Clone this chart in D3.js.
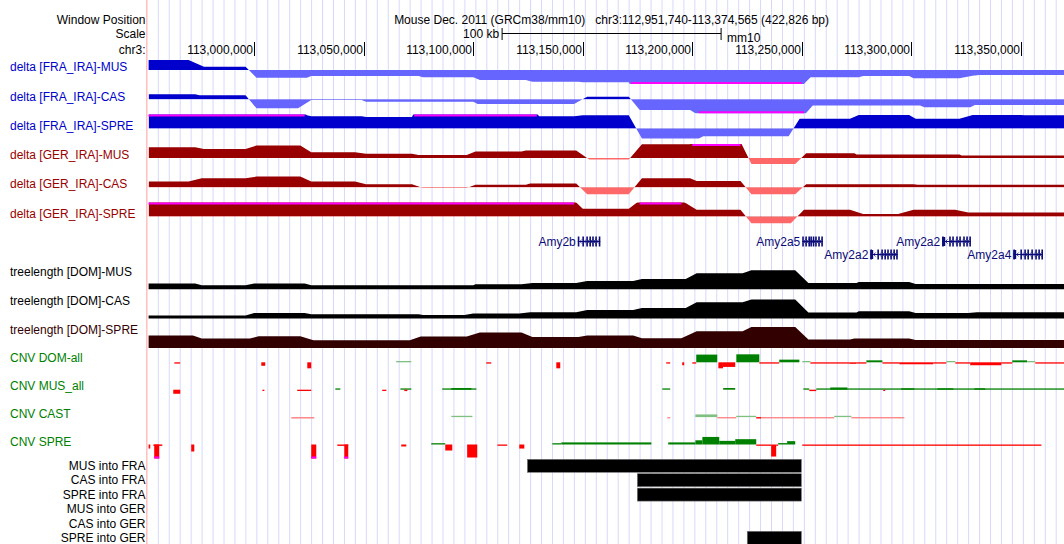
<!DOCTYPE html>
<html>
<head>
<meta charset="utf-8">
<script src="https://cdn.jsdelivr.net/npm/d3@7"></script>
<style>
  body { margin: 0; background: #fff; }
  svg { display: block; font-family: "Liberation Sans", Arial, Helvetica, sans-serif; }
  text { white-space: pre; }
</style>
</head>
<body>
<svg id="chart" width="1064" height="544"></svg>
<script>
// ---- window ----
const chrom = "chr3";
const winStart = 112951740, winEnd = 113374565;
const assemblyTitle = "Mouse Dec. 2011 (GRCm38/mm10)";
const scaleBarKb = 100;
const rulerTicks = [113000000, 113050000, 113100000, 113150000, 113200000, 113250000, 113300000, 113350000];

// ---- delta tracks: [position Mb, delta] (view limits ±1) ----
const deltaFraMus = [[112.951,0.71],[112.970,0.71],[112.977,0.24],[112.996,0.24],[113.001,-0.55],[113.024,-0.55],[113.026,-0.43],[113.075,-0.43],[113.077,-0.52],[113.100,-0.52],[113.103,-0.71],[113.124,-0.71],[113.127,-0.84],[113.148,-0.84],[113.150,-0.88],[113.171,-0.88],[113.172,-1.15],[113.250,-1.15],[113.254,-0.52],[113.276,-0.52],[113.278,-0.43],[113.299,-0.43],[113.301,-0.59],[113.322,-0.59],[113.328,-0.41],[113.331,-0.36],[113.375,-0.36]];
const deltaFraCas = [[112.951,0.36],[112.973,0.36],[112.975,0.29],[112.996,0.29],[113.001,-0.64],[113.020,-0.64],[113.026,-0.05],[113.049,-0.05],[113.051,-0.17],[113.100,-0.17],[113.102,-0.34],[113.146,-0.34],[113.152,0.19],[113.171,0.19],[113.176,-0.76],[113.199,-0.76],[113.203,-1.15],[113.251,-1.15],[113.255,-0.45],[113.304,-0.45],[113.306,-0.57],[113.327,-0.57],[113.329,-0.41],[113.375,-0.41]];
const deltaFraSpre = [[112.951,1.15],[113.023,1.15],[113.024,0.95],[113.026,0.88],[113.049,0.88],[113.051,0.83],[113.072,0.83],[113.073,1.15],[113.129,1.15],[113.130,0.88],[113.146,0.88],[113.150,0.95],[113.171,0.95],[113.177,-0.71],[113.203,-0.71],[113.205,-0.55],[113.244,-0.55],[113.249,0.71],[113.272,0.71],[113.276,0.98],[113.299,0.98],[113.302,0.71],[113.322,0.71],[113.328,0.98],[113.350,0.98],[113.352,0.95],[113.375,0.95]];
const deltaGerMus = [[112.951,0.76],[112.973,0.76],[112.977,0.64],[112.996,0.64],[113.001,0.88],[113.021,0.88],[113.026,0.40],[113.046,0.40],[113.051,0.29],[113.072,0.29],[113.075,0.21],[113.097,0.21],[113.101,0.45],[113.122,0.45],[113.124,0.52],[113.147,0.52],[113.153,-0.12],[113.171,-0.12],[113.177,0.98],[113.199,0.98],[113.200,1.15],[113.222,1.15],[113.227,-0.43],[113.247,-0.43],[113.252,0.33],[113.274,0.33],[113.275,0.24],[113.322,0.24],[113.323,0.17],[113.375,0.17]];
const deltaGerCas = [[112.951,0.40],[112.970,0.40],[112.976,0.64],[112.996,0.64],[113.001,0.76],[113.021,0.76],[113.026,0.40],[113.046,0.40],[113.051,0.21],[113.072,0.21],[113.077,-0.05],[113.097,-0.05],[113.101,0.17],[113.124,0.17],[113.126,0.26],[113.147,0.26],[113.152,-0.50],[113.171,-0.50],[113.177,0.64],[113.199,0.64],[113.202,0.45],[113.222,0.45],[113.227,-0.50],[113.247,-0.50],[113.252,0.21],[113.301,0.21],[113.303,0.17],[113.375,0.17]];
const deltaGerSpre = [[112.951,1.15],[113.146,1.15],[113.150,0.55],[113.171,0.55],[113.176,1.15],[113.195,1.15],[113.202,0.48],[113.222,0.48],[113.227,-0.48],[113.245,-0.48],[113.251,0.48],[113.272,0.48],[113.278,0.17],[113.294,0.17],[113.301,0.48],[113.320,0.48],[113.326,0.29],[113.375,0.29]];
const deltaLabels = ["delta [FRA_IRA]-MUS","delta [FRA_IRA]-CAS","delta [FRA_IRA]-SPRE","delta [GER_IRA]-MUS","delta [GER_IRA]-CAS","delta [GER_IRA]-SPRE"];

// ---- genes ----
const geneNames = ["Amy2b","Amy2a5","Amy2a2","Amy2a2","Amy2a4"];
const geneRows = [0, 0, 1, 0, 1];
const geneExons = [
  [113.1477,113.1498,113.1516,113.1530,113.1543,113.1557,113.1573],
  [113.2502,113.2516,113.2530,113.2539,113.2550,113.2561,113.2575,113.2589],
  [113.2813,113.2845,113.2863,113.2877,113.2890,113.2904,113.2918,113.2931],
  [113.3141,113.3173,113.3187,113.3205,113.3219,113.3237,113.3251,113.3265],
  [113.3466,113.3498,113.3516,113.3530,113.3548,113.3566,113.3580,113.3594]
];
const geneUtrEnd = [null, null, 113.2826, 113.3155, 113.3479];

// ---- tree length tracks: [position Mb, length] ----
const treeMus = [[112.951,0.0114],[112.973,0.0114],[112.976,0.008],[112.996,0.008],[113.000,0.0114],[113.023,0.0114],[113.026,0.008],[113.100,0.008],[113.101,0.010],[113.122,0.010],[113.127,0.0126],[113.147,0.0126],[113.152,0.0166],[113.173,0.0166],[113.177,0.0206],[113.197,0.0206],[113.202,0.032],[113.223,0.032],[113.227,0.038],[113.247,0.038],[113.253,0.0126],[113.275,0.0126],[113.276,0.0146],[113.299,0.0146],[113.302,0.0106],[113.375,0.0106]];
const treeCas = [[112.951,0.006],[112.996,0.006],[113.000,0.0114],[113.023,0.0114],[113.026,0.0086],[113.075,0.0086],[113.077,0.0074],[113.096,0.0074],[113.100,0.010],[113.121,0.010],[113.126,0.0126],[113.147,0.0126],[113.152,0.0174],[113.173,0.0174],[113.177,0.0214],[113.197,0.0214],[113.202,0.0326],[113.223,0.0326],[113.227,0.038],[113.247,0.038],[113.253,0.012],[113.275,0.012],[113.276,0.0146],[113.299,0.0146],[113.302,0.0114],[113.326,0.0114],[113.330,0.0126],[113.375,0.0126]];
const treeSpre = [[112.951,0.0246],[112.972,0.0246],[112.976,0.0186],[112.998,0.0186],[113.002,0.0234],[113.021,0.0234],[113.027,0.0154],[113.071,0.0154],[113.076,0.0226],[113.097,0.0226],[113.103,0.0306],[113.122,0.0306],[113.127,0.022],[113.148,0.022],[113.152,0.0246],[113.173,0.0246],[113.177,0.0194],[113.195,0.0194],[113.202,0.0334],[113.223,0.0334],[113.227,0.042],[113.247,0.042],[113.253,0.0166],[113.272,0.0166],[113.274,0.0186],[113.299,0.0186],[113.302,0.016],[113.375,0.016]];
const treeLabels = ["treelength [DOM]-MUS","treelength [DOM]-CAS","treelength [DOM]-SPRE"];

// ---- CNV tracks: [start Mb, end Mb, log ratio, low-confidence flag] ----
const cnvDom = [[112.9635,112.9662,-0.07,0],[113.0032,113.0050,-0.25,0],[113.0242,113.0260,-0.43,0],[113.0648,113.0717,0.09,1],[113.1059,113.1082,-0.07,0],[113.1379,113.1397,-0.43,0],[113.1881,113.1899,-0.07,0],[113.1954,113.1963,-0.21,0],[113.2000,113.2018,-0.07,0],[113.2018,113.2114,0.55,0],[113.2119,113.2140,-0.43,0],[113.2140,113.2196,-0.33,0],[113.2201,113.2306,0.57,0],[113.2306,113.2397,-0.07,0],[113.2397,113.2489,0.19,0],[113.2502,113.2539,0.07,1],[113.2539,113.2717,-0.07,0],[113.2717,113.2749,-0.11,0],[113.2749,113.2795,-0.07,0],[113.2795,113.2868,0.14,0],[113.2868,113.2945,-0.07,0],[113.2945,113.3100,-0.14,0],[113.3100,113.3160,-0.07,0],[113.3160,113.3201,0.07,1],[113.3201,113.3269,-0.07,0],[113.3269,113.3411,-0.21,0],[113.3411,113.3461,-0.07,0],[113.3461,113.3529,0.14,0],[113.3530,113.3566,0.07,1],[113.3566,113.3746,-0.07,0]];
const cnvMus = [[112.9630,112.9662,-0.29,0],[113.0037,113.0046,-0.07,0],[113.0196,113.0260,-0.06,0],[113.0370,113.0393,0.07,0],[113.0584,113.0603,-0.07,0],[113.0667,113.0717,0.07,0],[113.0685,113.0699,-0.1,0],[113.0858,113.1014,0.07,0],[113.0900,113.0991,0.12,0],[113.1863,113.1899,0.07,0],[113.2141,113.2196,0.12,0],[113.2507,113.2534,0.07,0],[113.2534,113.2566,-0.1,0],[113.2566,113.3746,0.07,0],[113.2630,113.2708,0.16,0],[113.2954,113.3014,0.1,0],[113.3119,113.3192,0.1,0],[113.3288,113.3338,0.1,0],[113.2872,113.2881,-0.07,0]];
const cnvCast = [[113.0169,113.0274,-0.1,1],[113.0900,113.0996,0.08,1],[113.1886,113.1899,-0.07,1],[113.2014,113.2114,0.19,1],[113.2114,113.2201,-0.07,1],[113.2201,113.2292,0.08,1],[113.2292,113.2315,-0.1,0],[113.2315,113.2648,-0.07,1],[113.2648,113.2726,0.08,1],[113.2726,113.2968,-0.07,1]];
const cnvSpre = [[112.9511,112.9525,-0.29,0],[112.9539,112.9580,-0.1,0],[112.9543,112.9566,-1.1,0],[112.9712,112.9726,-0.5,0],[113.0260,113.0283,-1.1,0],[113.0379,113.0429,-0.1,0],[113.0411,113.0429,-1.1,0],[113.0671,113.0694,-0.14,0],[113.0808,113.0872,0.07,0],[113.0872,113.0904,-0.43,0],[113.0972,113.1018,-0.93,0],[113.1110,113.1155,-0.07,0],[113.1210,113.1233,-0.29,0],[113.1361,113.1402,0.07,0],[113.1402,113.1813,0.15,0],[113.1890,113.2014,0.15,0],[113.2014,113.2046,0.3,0],[113.2046,113.2123,0.54,0],[113.2123,113.2196,0.26,0],[113.2196,113.2292,0.38,0],[113.2292,113.2360,-0.07,0],[113.2360,113.2383,-0.86,0],[113.2383,113.2392,-0.07,0],[113.2392,113.2433,0.1,0],[113.2433,113.2470,0.24,0],[113.2502,113.3594,-0.07,0]];
const cnvLabels = ["CNV DOM-all","CNV MUS_all","CNV CAST","CNV SPRE"];

// ---- introgression calls: [start Mb, end Mb] ----
const introMusFra = [[113.1247,113.2498]];
const introCasFra = [[113.1749,113.2498]];
const introSpreFra = [[113.1749,113.2498]];
const introMusGer = [];
const introCasGer = [];
const introSpreGer = [[113.2251,113.2498]];
const introLabels = ["MUS into FRA","CAS into FRA","SPRE into FRA","MUS into GER","CAS into GER","SPRE into GER"];

// ---------------------------------------------------------------
const W = 1064, H = 544;
const dataLeft = 148.6, dataWidth = 926;
const x = d3.scaleLinear().domain([winStart, winEnd]).range([dataLeft, dataLeft + dataWidth]);
const bp = mb => mb * 1e6;
const fmt = d3.format(",");

const svg = d3.select("#chart");
const defs = svg.append("defs");
defs.append("clipPath").attr("id", "dataArea")
  .append("rect").attr("x", dataLeft).attr("y", 0).attr("width", W - dataLeft).attr("height", H);

svg.append("rect").attr("width", W).attr("height", H).attr("fill", "#fff");

// light blue guidelines every 12 original screen pixels
const guideStep = 10.95;
svg.append("g").selectAll("line")
  .data(d3.range(158.3, W, guideStep))
  .join("line")
  .attr("x1", d => d).attr("x2", d => d).attr("y1", 0).attr("y2", H)
  .attr("stroke", "#d8d8fc").attr("stroke-width", 1);

// label / data divider
svg.append("line").attr("x1", 146.8).attr("x2", 146.8).attr("y1", 0).attr("y2", H)
  .attr("stroke", "#ffbcbc").attr("stroke-width", 1.4);

const labels = svg.append("g").attr("font-size", 12);
function sideLabel(txt, y, color, anchor) {
  labels.append("text")
    .attr("x", anchor === "end" ? 145.5 : 10)
    .attr("y", y).attr("dy", "0.35em")
    .attr("text-anchor", anchor || "start")
    .attr("fill", color).text(txt);
}

// ---- header ----
sideLabel("Window Position", 19.5, "#000", "end");
sideLabel("Scale", 33.5, "#000", "end");
sideLabel(chrom + ":", 49.5, "#000", "end");

const center = dataLeft + dataWidth / 2;
svg.append("text").attr("x", center).attr("y", 19.5).attr("dy", "0.35em")
  .attr("text-anchor", "middle").attr("font-size", 12)
  .text(assemblyTitle + "   " + chrom + ":" + fmt(winStart) + "-" + fmt(winEnd) + " (" + fmt(winEnd - winStart + 1) + " bp)");

// scale bar
const barLen = x(winStart + scaleBarKb * 1000) - x(winStart);
const barStart = dataLeft + (dataWidth - barLen) / 2;
const barEnd = barStart + barLen;
const sb = svg.append("g").attr("stroke", "#000").attr("stroke-width", 1);
sb.append("line").attr("x1", barStart).attr("x2", barEnd).attr("y1", 33.5).attr("y2", 33.5);
sb.append("line").attr("x1", barStart).attr("x2", barStart).attr("y1", 28).attr("y2", 40);
sb.append("line").attr("x1", barEnd).attr("x2", barEnd).attr("y1", 28).attr("y2", 40);
svg.append("text").attr("x", barStart - 3).attr("y", 33.5).attr("dy", "0.35em")
  .attr("text-anchor", "end").attr("font-size", 12).text(scaleBarKb + " kb");
svg.append("text").attr("x", barEnd + 6).attr("y", 37.5).attr("dy", "0.35em")
  .attr("font-size", 12).text("mm10");

// base position ruler
const ruler = svg.append("g");
rulerTicks.forEach(t => {
  const tx = Math.round(x(t)) + 0.5;
  ruler.append("line").attr("x1", tx).attr("x2", tx).attr("y1", 42).attr("y2", 56)
    .attr("stroke", "#000").attr("stroke-width", 1);
  ruler.append("text").attr("x", tx - 1.5).attr("y", 49.5).attr("dy", "0.35em")
    .attr("text-anchor", "end").attr("font-size", 12).text(fmt(t));
});

const plot = svg.append("g").attr("clip-path", "url(#dataArea)");

// ---- delta wiggle tracks ----
const deltaSeries = [deltaFraMus, deltaFraCas, deltaFraSpre, deltaGerMus, deltaGerCas, deltaGerSpre];
const deltaLimit = 1;
deltaSeries.forEach((series, i) => {
  const fra = i < 3;
  const dark = fra ? "#0000cc" : "#990000";
  const light = fra ? "#6666ff" : "#ff6868";
  const base = 70 + 29.3 * i, half = 14;
  const y = d3.scaleLinear().domain([-deltaLimit, deltaLimit]).range([base + half, base - half]);
  const area = d3.area().x(d => x(bp(d[0]))).y0(y(0)).y1(d => y(d[1]));
  defs.append("clipPath").attr("id", "dpos" + i)
    .append("rect").attr("x", dataLeft).attr("y", y(deltaLimit)).attr("width", dataWidth).attr("height", y(0) - y(deltaLimit));
  defs.append("clipPath").attr("id", "dneg" + i)
    .append("rect").attr("x", dataLeft).attr("y", y(0)).attr("width", dataWidth).attr("height", y(-deltaLimit) - y(0));
  const g = plot.append("g");
  g.append("path").attr("d", area(series)).attr("fill", dark).attr("clip-path", `url(#dpos${i})`);
  g.append("path").attr("d", area(series)).attr("fill", light).attr("clip-path", `url(#dneg${i})`);
  // values beyond the view limits are flagged along the clipped edge
  d3.pairs(series).forEach(([a, b]) => {
    if (a[1] > deltaLimit && b[1] > deltaLimit) {
      g.append("line").attr("x1", x(bp(a[0]))).attr("x2", x(bp(b[0])))
        .attr("y1", y(deltaLimit) + 1).attr("y2", y(deltaLimit) + 1)
        .attr("stroke", "#ff00ff").attr("stroke-width", 2);
    } else if (a[1] < -deltaLimit && b[1] < -deltaLimit) {
      g.append("line").attr("x1", x(bp(a[0]))).attr("x2", x(bp(b[0])))
        .attr("y1", y(-deltaLimit) - 1).attr("y2", y(-deltaLimit) - 1)
        .attr("stroke", "#ff00ff").attr("stroke-width", 2);
    }
  });
  sideLabel(deltaLabels[i], base - 3, dark);
});

// ---- gene track ----
const geneColor = "#0c0c78";
const geneRowY = [241.5, 254.5];
const gg = plot.append("g");
geneNames.forEach((name, i) => {
  const ex = geneExons[i];
  const cy = geneRowY[geneRows[i]];
  const x0 = x(bp(ex[0])), x1 = x(bp(ex[ex.length - 1]));
  gg.append("line").attr("x1", x0).attr("x2", x1 + 1.5).attr("y1", cy).attr("y2", cy)
    .attr("stroke", geneColor).attr("stroke-width", 1);
  // strand chevrons along the intron line
  d3.pairs(ex).forEach(([a, b]) => {
    const mx = (x(bp(a)) + x(bp(b))) / 2 + 0.8;
    gg.append("path").attr("d", `M${mx + 1},${cy - 2}L${mx - 1},${cy}L${mx + 1},${cy + 2}`)
      .attr("fill", "none").attr("stroke", geneColor).attr("stroke-width", 0.8);
  });
  ex.forEach(e => {
    gg.append("rect").attr("x", x(bp(e))).attr("y", cy - 5).attr("width", 1.6).attr("height", 10)
      .attr("fill", geneColor);
  });
  if (geneUtrEnd[i]) {
    gg.append("rect").attr("x", x0).attr("y", cy - 4.5)
      .attr("width", x(bp(geneUtrEnd[i])) - x0).attr("height", 9).attr("fill", geneColor);
  }
  gg.append("text").attr("x", x0 - 2).attr("y", cy).attr("dy", "0.35em")
    .attr("text-anchor", "end").attr("font-size", 12).attr("fill", geneColor).text(name);
});

// ---- tree length tracks ----
const treeSeries = [treeMus, treeCas, treeSpre];
const treeColors = ["#000000", "#000000", "#330000"];
const treeMax = 0.05;
treeSeries.forEach((series, i) => {
  const bottom = 289.3 + 29.3 * i;
  const y = d3.scaleLinear().domain([0, treeMax]).range([bottom, bottom - 25]);
  const area = d3.area().x(d => x(bp(d[0]))).y0(y(0)).y1(d => y(d[1]));
  plot.append("path").attr("d", area(series)).attr("fill", treeColors[i]);
  sideLabel(treeLabels[i], bottom - 17.8, treeColors[i]);
});

// ---- CNV tracks ----
const cnvSeries = [cnvDom, cnvMus, cnvCast, cnvSpre];
const cnvLimit = 1;
cnvSeries.forEach((series, i) => {
  const base = 362.3 + 27.4 * i, half = 14;
  const y = d3.scaleLinear().domain([-cnvLimit, cnvLimit]).range([base + half, base - half]);
  const g = plot.append("g");
  series.forEach(([s, e, v, weak]) => {
    const vv = Math.max(-cnvLimit, Math.min(cnvLimit, v));
    let y0 = Math.min(y(0), y(vv)), h = Math.abs(y(vv) - y(0));
    if (h < 1.3) { h = 1.3; y0 = v > 0 ? y(0) - 1.3 : y(0); }
    const col = v > 0 ? (weak ? "#7fbf7f" : "#008000") : (weak ? "#ff7f7f" : "#ff0000");
    g.append("rect").attr("x", x(bp(s))).attr("y", y0)
      .attr("width", Math.max(1, x(bp(e)) - x(bp(s)))).attr("height", h).attr("fill", col);
    if (Math.abs(v) > cnvLimit) {
      g.append("rect").attr("x", x(bp(s))).attr("y", v > 0 ? y(cnvLimit) : y(-cnvLimit) - 2)
        .attr("width", Math.max(1, x(bp(e)) - x(bp(s)))).attr("height", 2).attr("fill", "#ff00ff");
    }
  });
  sideLabel(cnvLabels[i], 357.5 + 28 * i, "#008000");
});

// ---- introgression tracks ----
const introSeries = [introMusFra, introCasFra, introSpreFra, introMusGer, introCasGer, introSpreGer];
introSeries.forEach((series, i) => {
  const top = 459.3 + 14.4 * i;
  series.forEach(([s, e]) => {
    plot.append("rect").attr("x", x(bp(s))).attr("y", top)
      .attr("width", x(bp(e)) - x(bp(s))).attr("height", 13)
      .attr("fill", "#000").attr("stroke", "#777").attr("stroke-width", 0.6);
  });
  sideLabel(introLabels[i], top + 6.5, "#000", "end");
});
</script>
</body>
</html>
